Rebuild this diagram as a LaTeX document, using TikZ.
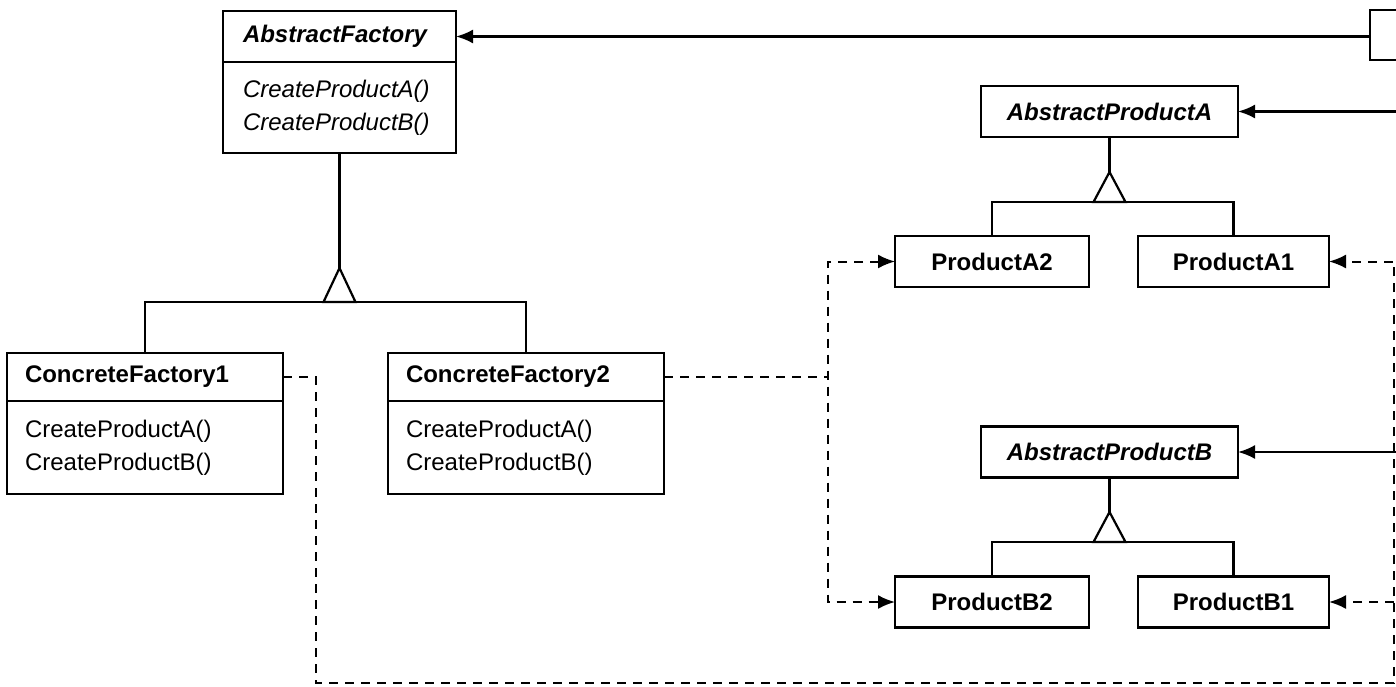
\documentclass[tikz,border=0pt]{standalone}
\usepackage{fontspec}
\setmainfont{Liberation Sans}
\usetikzlibrary{arrows.meta,positioning,calc}
\tikzset{
  box/.style={draw,line width=2.2pt,rectangle,inner sep=0pt,outer sep=0pt,font=\fontsize{24}{33}\selectfont},
  classname/.style={box,align=left,inner xsep=18pt,font=\fontsize{24}{33}\selectfont\bfseries},
  abstractname/.style={classname,font=\fontsize{24}{33}\selectfont\bfseries\itshape},
  ops/.style={box,align=left,inner xsep=18pt},
  prodname/.style={box,minimum height=51pt,font=\fontsize{24}{33}\selectfont\bfseries},
  abstractprod/.style={prodname,minimum width=257pt,font=\fontsize{24}{33}\selectfont\bfseries\itshape},
  solidline/.style={line width=2.2pt},
  dep/.style={line width=2pt,dash pattern=on 9pt off 7pt},
  headarrow/.style={-{Latex[length=17pt,width=14pt]}},
  gen/.style={line width=2.2pt,fill=white,line join=miter},
}
\begin{document}
\begin{tikzpicture}[x=1pt,y=-1pt]
\useasboundingbox (0,0) rectangle (1396,686);
\clip (0,0) rectangle (1396,686);
%factories
\node[abstractname,text width=193pt,inner xsep=20pt,minimum height=51pt] (aft) at (339.5,36.5) {AbstractFactory};
\node[ops,text width=193pt,inner xsep=20pt,minimum height=91pt,below=0pt of aft,font=\fontsize{24}{33}\selectfont\itshape] (afo) {CreateProductA()\\CreateProductB()};
\node[classname,text width=240pt,minimum height=48pt] (cf1) at (145,377) {ConcreteFactory1};
\node[ops,text width=240pt,minimum height=93pt,below=0pt of cf1] (cf1o) {CreateProductA()\\CreateProductB()};
\node[classname,text width=240pt,minimum height=48pt] (cf2) at (526,377) {ConcreteFactory2};
\node[ops,text width=240pt,minimum height=93pt,below=0pt of cf2] (cf2o) {CreateProductA()\\CreateProductB()};
\node[box,minimum width=120pt,minimum height=50pt,anchor=west] (client) at (1370,35) {};
%products
\node[abstractprod] (apa) at (1109.5,111.5) {AbstractProductA};
\node[prodname,minimum width=194pt] (pa2) at (992,261.5) {ProductA2};
\node[prodname,minimum width=191pt] (pa1) at (1233.5,261.5) {ProductA1};
\node[abstractprod] (apb) at (1109.5,452) {AbstractProductB};
\node[prodname,minimum width=194pt] (pb2) at (992,602) {ProductB2};
\node[prodname,minimum width=191pt] (pb1) at (1233.5,602) {ProductB1};
%inheritance
\foreach \parent/\apexY/\barY/\kidL/\kidR in {afo/268/302/cf1/cf2,apa/172/202/pa2/pa1,apb/512/542/pb2/pb1}{
  \draw[solidline] (\parent.south) -- (\parent.south |- 0,\apexY);
  \draw[solidline] (\kidL.north) -- (\kidL.north |- 0,\barY) -- (\kidR.north |- 0,\barY) -- (\kidR.north);
  \draw[gen] (\parent.south |- 0,\barY) ++(-16,0) -- ++(32,0) -- (\parent.south |- 0,\apexY) -- cycle;
}
%associations
\coordinate (edge) at (1400,0);
\draw[solidline,headarrow] (aft.east -| client.west) -- (aft.east);
\draw[solidline,headarrow] (apa.east -| edge) -- (apa.east);
\draw[solidline,headarrow] (apb.east -| edge) -- (apb.east);
%creates
\coordinate (splitB) at (828,430);
\draw[dep] (cf2.east) -- (cf2.east -| splitB);
\draw[dep,{Latex[length=17pt,width=14pt]}-{Latex[length=17pt,width=14pt]}] (pa2.west) -| (splitB) |- (pb2.west);
\coordinate (corner) at (1394,683);
\draw[dep,headarrow] (cf1.east) -- ++(33,0) |- (corner) |- (pa1.east);
\draw[dep,headarrow] (pb1.east -| corner) -- (pb1.east);
\end{tikzpicture}
\end{document}
